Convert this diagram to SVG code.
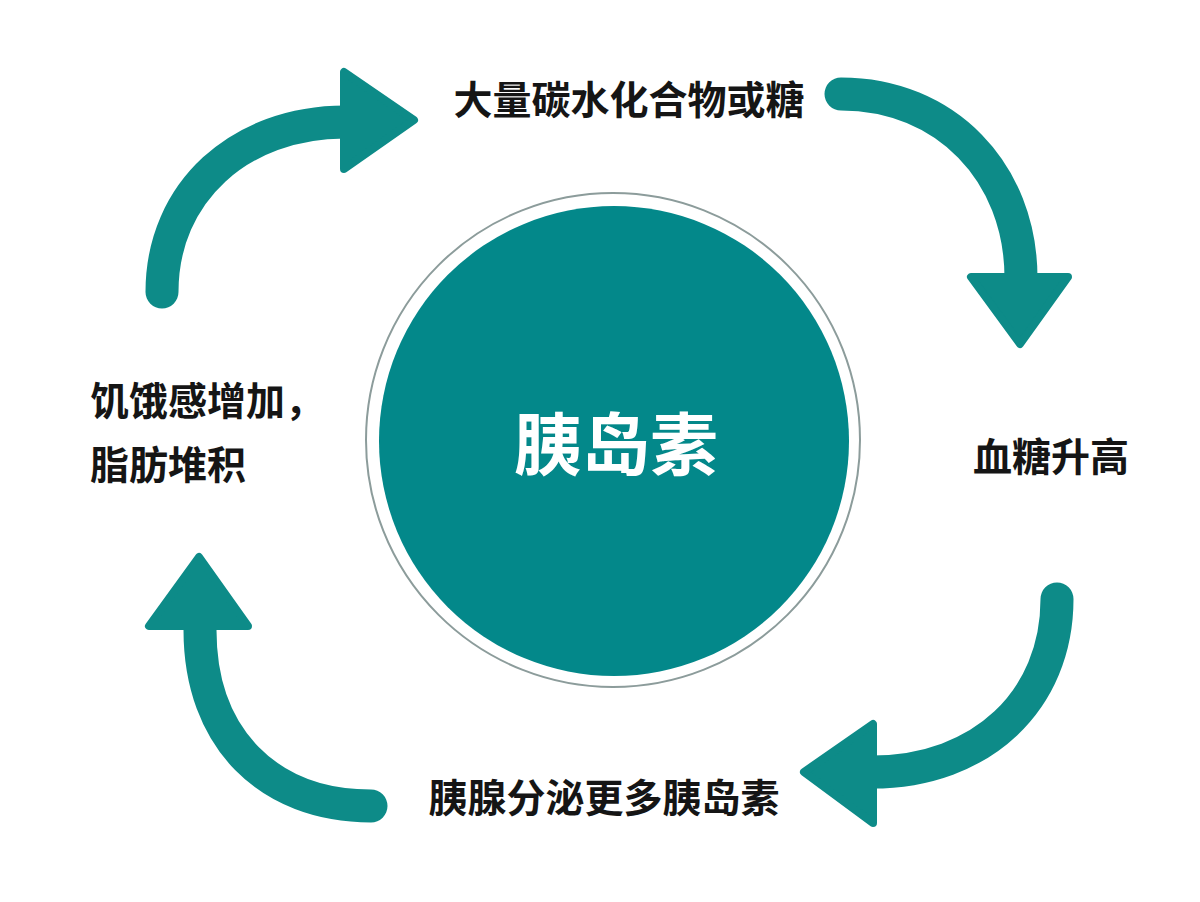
<svg xmlns="http://www.w3.org/2000/svg" width="1200" height="902" viewBox="0 0 1200 902">
  <style>
    .arc { fill: none; stroke: #0d8b88; stroke-width: 33; stroke-linecap: round; }
    .head { fill: #0d8b88; stroke: #0d8b88; stroke-width: 8; stroke-linejoin: round; }
    .lbl { font-family: "Noto Sans CJK SC", "Noto Sans", sans-serif; font-weight: 700; font-size: 39px; fill: #151515; dominant-baseline: central; }
    .mid { text-anchor: middle; }
  </style>
  <rect width="1200" height="902" fill="#ffffff"/>
  <g id="connectors">
    <g id="arrow-top-left">
      <path class="arc" d="M162,292 C162,192 240,122 345,122"/>
      <polygon class="head" points="344,72 344,169 414,120"/>
    </g>
    <g id="arrow-top-right">
      <path class="arc" d="M841,94 C945,94 1021,172 1021,278"/>
      <polygon class="head" points="971,277 1068,277 1020,344"/>
    </g>
    <g id="arrow-bottom-right">
      <path class="arc" d="M1057,599 C1057,700 982,772 872,772"/>
      <polygon class="head" points="873,724 873,823 804,772"/>
    </g>
    <g id="arrow-bottom-left">
      <path class="arc" d="M371,806 C268,806 200,738 200,630"/>
      <polygon class="head" points="149,626 248,626 199,557"/>
    </g>
  </g>
  <g id="center">
    <circle cx="613" cy="440" r="247" fill="#ffffff" stroke="#8c9c9b" stroke-width="2"/>
    <circle cx="614" cy="441" r="235" fill="#03888a"/>
    <text x="616" y="440" class="lbl mid" style="font-size:68px;fill:#ffffff">胰岛素</text>
  </g>
  <g id="node-carbs">
    <text x="629" y="97" class="lbl mid">大量碳水化合物或糖</text>
  </g>
  <g id="node-bloodsugar">
    <text x="1051" y="454" class="lbl mid">血糖升高</text>
  </g>
  <g id="node-pancreas">
    <text x="604" y="795" class="lbl mid">胰腺分泌更多胰岛素</text>
  </g>
  <g id="node-hunger">
    <text x="90" y="398" class="lbl">饥饿感增加，</text>
    <text x="90" y="462" class="lbl">脂肪堆积</text>
  </g>
</svg>
